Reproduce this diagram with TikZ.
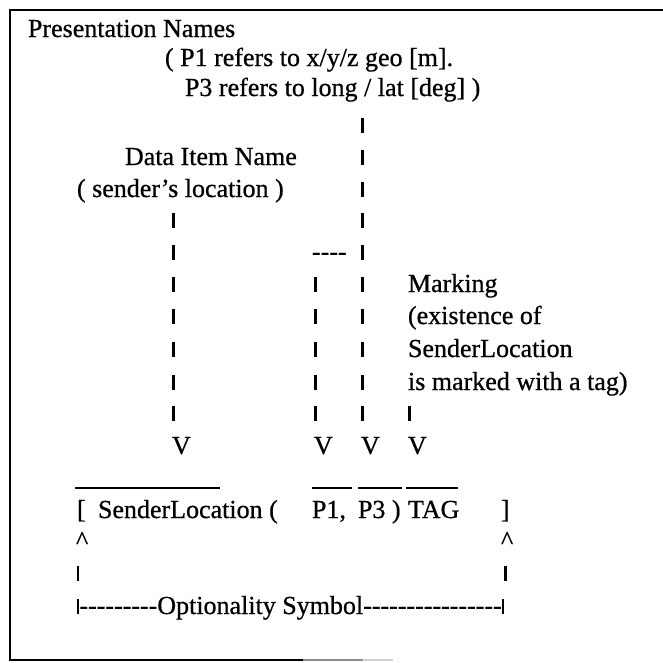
\documentclass[tikz,border=0pt]{standalone}
\usepackage{fontspec}
\setmainfont{Liberation Serif}[FakeBold=0.7]
\newcommand\labelfont{\fontsize{26}{28}\selectfont}
% a run of plain hyphens, kept apart so that no dash ligature forms
\newcommand\hyrun[1]{\foreach\k in {1,...,#1}{\mbox{-}}}
% the short vertical stroke used as a pointer segment
\newcommand\vbar{\rule{2.4pt}{15pt}}

\begin{document}
\begin{tikzpicture}[x=1pt,y=-1pt,
  txt/.style={anchor=base west, inner sep=0pt, outer sep=0pt, font=\labelfont},
  vb/.style={anchor=base, inner sep=0pt, outer sep=0pt},
  frame/.style={line width=2.2pt},
  over/.style={line width=1.5pt}]
\useasboundingbox (0,0) rectangle (663,662);

% frame (open on the right)
\draw[frame] (663,10) -- (10,10) -- (10,660) -- (303,660);
\draw[frame, black!45] (303,660) -- (363,660);
\draw[frame, black!18] (363,660) -- (393,660);

% header texts
\node[txt] (pres)  at (28,37)  {Presentation Names};
\node[txt] (pnoteA) at (165,66) {( P1 refers to x/y/z geo [m].};
\node[txt] (pnoteB) at (185,96) {P3 refers to long / lat [deg] )};
\node[txt] (dname) at (125,165) {Data Item Name};
\node[txt] (dnote) at (77,197)  {( sender’s location )};

% marking note
\node[txt] (markA) at (408,292) {Marking};
\node[txt] (markB) at (408,324) {(existence of};
\node[txt] (markC) at (408,357) {SenderLocation};
\node[txt] (markD) at (408,390) {is marked with a tag)};

% pointer strokes
\foreach \r/\yy in {7/228,8/260,9/292,10/324,11/357,12/390,13/421}
  \node[vb] (ca\r) at (173.5,\yy) {\vbar};
\foreach \r/\yy in {9/292,10/324,11/357,12/390,13/421}
  \node[vb] (cb\r) at (315.5,\yy) {\vbar};
\foreach \r/\yy in {4/133,5/165,6/197,7/228,8/260,9/292,10/324,11/357,12/390,13/421}
  \node[vb] (cc\r) at (362.5,\yy) {\vbar};
\node[vb] (cd13) at (409.5,421) {\vbar};
\node[txt] (hook) at (312,260) {\hyrun{4}};

% arrow heads
\node[txt] (va) at (172,454) {V};
\node[txt] (vb) at (314,454) {V};
\node[txt] (vc) at (361,454) {V};
\node[txt] (vd) at (408,454) {V};

% overlines
\draw[over] (75,488) -- (220,488);
\draw[over] (312,488) -- (352,488);
\draw[over] (358,488) -- (402,488);
\draw[over] (406,488) -- (458,488);

% the notation line
\node[txt] (lbr)  at (77,518)  {[};
\node[txt] (item) at (98,518)  {SenderLocation (};
\node[txt] (pone) at (312,518) {P1,};
\node[txt] (pthr) at (358,518) {P3 )};
\node[txt] (tag)  at (408,518) {TAG};
\node[txt] (rbr)  at (501,518) {]};

% optionality marker
\node[txt] (capL) at (76,549) {\textasciicircum};
\node[txt] (capR) at (501,549) {\textasciicircum};
\node[vb] (optL) at (78,581) {\vbar};
\node[vb] (optR) at (505.5,581) {\vbar};
\node[txt] (opt) at (77,614) {\vbar\hyrun{9}Optionality Symbol\hyrun{16}\vbar};
\end{tikzpicture}
\end{document}
